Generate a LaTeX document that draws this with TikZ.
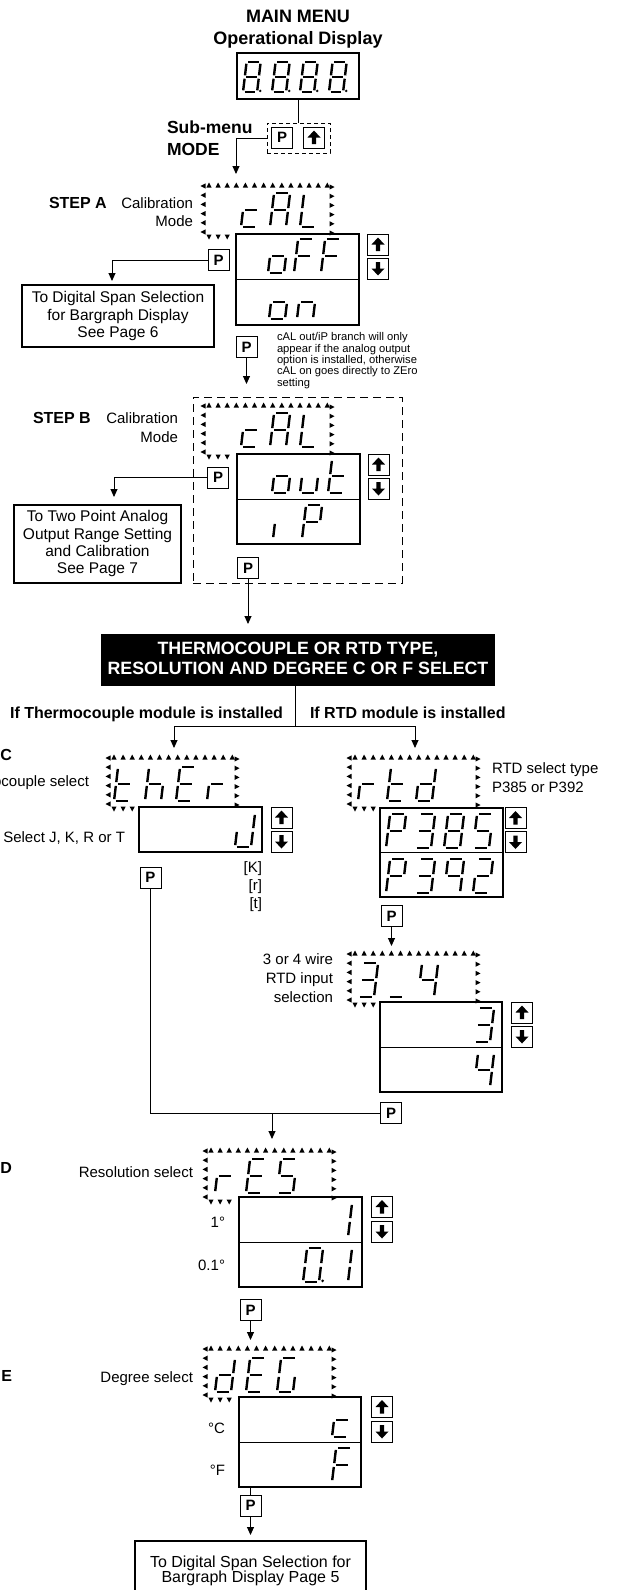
\documentclass[tikz,border=0pt]{standalone}
\usepackage{fontspec}
\setmainfont{Liberation Sans}
\usetikzlibrary{arrows.meta}
% seven-segment parts (local y negative = up)
\def\sgsa{\draw[segln] (1.9,-34) -- (14.1,-34);}
\def\sgsb{\draw[segln] (16,-32.1) -- (16,-18.9);}
\def\sgsc{\draw[segln] (16,-15.1) -- (16,-1.9);}
\def\sgsd{\draw[segln] (1.9,0) -- (14.1,0);}
\def\sgse{\draw[segln] (0,-1.9) -- (0,-15.1);}
\def\sgsf{\draw[segln] (0,-18.9) -- (0,-32.1);}
\def\sgsg{\draw[segln] (1.9,-17) -- (14.1,-17);}
\def\sgsp{\fill (19.5,-1.2) circle (1.5);}
\def\svEightp{a,b,c,d,e,f,g,p}
\def\sveig{a,b,c,d,e,f,g}
\def\svc{d,e,g}
\def\svA{a,b,c,e,f,g}
\def\svL{d,e,f}
\def\svo{c,d,e,g}
\def\svF{a,e,f,g}
\def\svn{c,e,g}
\def\svu{c,d,e}
\def\svt{d,e,f,g}
\def\svi{e}
\def\svP{a,b,e,f,g}
\def\svh{c,e,f,g}
\def\svE{a,d,e,f,g}
\def\svr{e,g}
\def\svJ{b,c,d,e}
\def\svd{b,c,d,e,g}
\def\svthree{a,b,c,d,g}
\def\svus{d}
\def\svfour{b,c,f,g}
\def\svfive{a,c,d,f,g}
\def\svnine{a,b,c,f,g}
\def\svtwo{a,b,d,e,g}
\def\svone{b,c}
\def\svzerop{a,b,c,d,e,f,p}
\def\svG{a,c,d,e,f}
\newcommand\sevg[4][1]{\begin{scope}[shift={(#2,#3)},xslant=0.12,scale=#1]\foreach \s in #4 {\csname sgs\s\endcsname}\end{scope}}
\newcommand\blinkfr[2]{%
\foreach \k in {0,...,13}{\fill ({#1+6+9.1*\k-2.6},{#2+2.5}) -- ++(5.2,0) -- ++(-2.6,-5) -- cycle;}
\foreach \k in {0,...,5}{\fill ({#1+2.5},{#2+1+9.2*\k-2.6}) -- ++(0,5.2) -- ++(-5,-2.6) -- cycle;}
\foreach \k in {0,...,5}{\fill ({#1+126.5},{#2+2+9.2*\k-2.6}) -- ++(0,5.2) -- ++(5,-2.6) -- cycle;}
\foreach \k in {0,1,2}{\fill ({#1+6+9.1*\k-2.6},{#2+49.5}) -- ++(5.2,0) -- ++(-2.6,5) -- cycle;}}
\begin{document}
\begin{tikzpicture}[x=1pt,y=-1pt,
  every node/.style={inner sep=0pt,outer sep=0pt},
  ln/.style={line width=0.9pt},
  arr/.style={ln,-{Triangle[width=7pt,length=8pt]}},
  segln/.style={line width=2.4pt},
  box/.style={draw,line width=1.1pt,anchor=north west},
  btn/.style={draw,line width=1pt,minimum width=21pt,minimum height=21pt},
  pbtn/.style={btn,font=\fontsize{15}{15}\selectfont\bfseries},
  ubtn/.style={btn,path picture={\fill ([shift={(0,-7)}]path picture bounding box.center) -- ++(6.5,7) -- ++(-4.3,0) -- ++(0,6.5) -- ++(-4.4,0) -- ++(0,-6.5) -- ++(-4.3,0) -- cycle;}},
  dbtn/.style={btn,path picture={\fill ([shift={(0,7)}]path picture bounding box.center) -- ++(6.5,-7) -- ++(-4.3,0) -- ++(0,-6.5) -- ++(-4.4,0) -- ++(0,6.5) -- ++(-4.3,0) -- cycle;}},
  lbl/.style={font=\fontsize{15}{17.5}\selectfont},
  blbl/.style={font=\fontsize{16}{19}\selectfont\bfseries},
  hd/.style={font=\fontsize{18}{22}\selectfont\bfseries},
  sub/.style={font=\fontsize{17.5}{20}\selectfont\bfseries},
]
\fill[white] (0,0) rectangle (618,1590);
\useasboundingbox (0,0) rectangle (618,1590);
% ---------- main menu
\node[hd,anchor=base] (t1) at (298,22) {MAIN MENU};
\node[hd,anchor=base] (t2) at (298,44) {Operational Display};
\node[box,line width=1.3pt,minimum width=122pt,minimum height=46pt] (md) at (237,53) {};
\foreach \xx in {243,272,300,329}{\sevg[0.88]{\xx}{92}{\svEightp}}
\node[draw,line width=0.9pt,dash pattern=on 4pt off 3pt,anchor=north west,minimum width=63pt,minimum height=30pt] (sm) at (267,123) {};
\node[pbtn] (p0) at (282,137.5) {P};
\node[ubtn] (u0) at (314,137.5) {};
\draw[ln] (md.south) -- (md.south |- sm.north);
\coordinate (a0) at (236,174);
\draw[arr] (sm.west) -| (a0);
\node[sub,anchor=base west] (subm) at (167,133) {Sub-menu};
\node[sub,anchor=base west] (mode) at (167,155) {MODE};
% ---------- STEP A
\node[blbl,anchor=base west] (sa) at (49,208) {STEP A};
\node[lbl,anchor=base east] (ca) at (193,208) {Calibration};
\node[lbl,anchor=base east] (ma) at (193,226) {Mode};
\blinkfr{203}{185}
\sevg{241}{227}{\svc}\sevg{270}{227}{\svA}\sevg{300}{227}{\svL}
\node[box,minimum width=123pt,minimum height=91pt] (oA) at (236,234) {};
\draw[ln] (oA.west) -- (oA.east);
\sevg{268}{273}{\svo}\sevg{294}{273}{\svF}\sevg{321}{273}{\svF}
\sevg{269}{319}{\svo}\sevg{297}{319}{\svn}
\node[ubtn] (uA) at (378,244.5) {};
\node[dbtn] (dA) at (378,268.5) {};
\node[pbtn] (pA) at (218.5,260) {P};
\coordinate (aA) at (112,281);
\draw[arr] (pA.west) -| (aA);
\node[box,minimum width=192pt,minimum height=62pt] (bA) at (22,285) {};
\node[align=center,anchor=north,font=\fontsize{15.5}{17.5}\selectfont] (bAt) at (118,291.7) {To Digital Span Selection\\for Bargraph Display\\See Page 6};
\node[pbtn] (pA2) at (246.5,347) {P};
\coordinate (aB) at (246.5,384);
\draw[arr] (pA2.south) -- (aB);
\node[anchor=north west,align=left,font=\fontsize{11.2}{10.3}\selectfont] (note) at (277,332.5) {cAL out/iP branch will only\\appear if the analog output\\option is installed, otherwise\\cAL on goes directly to ZEro\\setting};
% ---------- STEP B
\node[draw,line width=0.9pt,dash pattern=on 8pt off 5pt,anchor=north west,minimum width=209pt,minimum height=186pt] (dB) at (193,397) {};
\node[blbl,anchor=base west] (sb) at (33,423) {STEP B};
\node[lbl,anchor=base east] (cb) at (178,423) {Calibration};
\node[lbl,anchor=base east] (mb) at (178,442) {Mode};
\blinkfr{203}{405}
\sevg{241}{447}{\svc}\sevg{270}{447}{\svA}\sevg{300}{447}{\svL}
\node[box,minimum width=123pt,minimum height=90pt] (oB) at (237,454) {};
\draw[ln] (oB.west) -- (oB.east);
\sevg{272}{493}{\svo}\sevg{300}{493}{\svu}\sevg{328}{493}{\svt}
\sevg{273}{539}{\svi}\sevg{302}{539}{\svP}
\node[ubtn] (uB) at (378.5,464.5) {};
\node[dbtn] (dBb) at (378.5,488.5) {};
\node[pbtn] (pB) at (218,477.5) {P};
\coordinate (aC) at (114,497);
\draw[arr] (pB.west) -| (aC);
\node[box,minimum width=167pt,minimum height=78pt] (bB) at (14,505) {};
\node[align=center,anchor=north,font=\fontsize{15.5}{17.3}\selectfont] (bBt) at (97.5,510.7) {To Two Point Analog\\Output Range Setting\\and Calibration\\See Page 7};
\node[pbtn] (pB2) at (248,568) {P};
\coordinate (aD) at (248,624);
\draw[arr] (pB2.south) -- (aD);
% ---------- banner
\node[fill=black,anchor=north west,minimum width=394pt,minimum height=52pt] (ban) at (101,634) {};
\node[text=white,font=\fontsize{17.8}{20}\selectfont\bfseries,align=center] (bant) at (298,658.5) {THERMOCOUPLE OR RTD TYPE,\\RESOLUTION AND DEGREE C OR F SELECT};
\coordinate (jn) at (295,726);
\draw[ln] (jn |- ban.south) -- (jn);
\coordinate (aT) at (174,748);
\coordinate (aR) at (415,748);
\draw[arr] (jn) -| (aT);
\draw[arr] (jn) -| (aR);
\node[blbl,anchor=base east] (ift) at (283,718) {If Thermocouple module is installed};
\node[blbl,anchor=base west] (ifr) at (310,718) {If RTD module is installed};
% ---------- STEP C thermocouple
\node[blbl,anchor=base east] (sc) at (12,760) {STEP C};
\node[lbl,anchor=base east] (tcs) at (89,786) {Thermocouple select};
\node[lbl,anchor=base east] (sjk) at (125,842) {Select J, K, R or T};
\blinkfr{108}{757}
\sevg{114}{801}{\svt}\sevg{145}{801}{\svh}\sevg{176}{801}{\svE}\sevg{207}{801}{\svr}
\node[box,minimum width=123pt,minimum height=45pt] (oT) at (139,807) {};
\sevg{235}{847}{\svJ}
\node[ubtn] (uT) at (281.5,817.5) {};
\node[dbtn] (dT) at (281.5,841.5) {};
\node[lbl,anchor=base east] (kK) at (262,872) {[K]};
\node[lbl,anchor=base east] (kr) at (262,890) {[r]};
\node[lbl,anchor=base east] (kt) at (262,908) {[t]};
\node[pbtn] (pT) at (150.5,877.5) {P};
% ---------- RTD
\blinkfr{349}{757}
\sevg{358}{801}{\svr}\sevg{387}{801}{\svt}\sevg{416}{801}{\svd}
\node[lbl,anchor=base west] (rst) at (492,773) {RTD select type};
\node[lbl,anchor=base west] (rsp) at (492,792) {P385 or P392};
\node[box,minimum width=123pt,minimum height=89pt] (oR) at (380,808) {};
\draw[ln] (oR.west) -- (oR.east);
\sevg{386}{848}{\svP}\sevg{415}{848}{\svthree}\sevg{444}{848}{\sveig}\sevg{473}{848}{\svfive}
\sevg{386}{893}{\svP}\sevg{415}{893}{\svthree}\sevg{444}{893}{\svnine}\sevg{473}{893}{\svtwo}
\node[ubtn] (uR) at (515.5,818) {};
\node[dbtn] (dR) at (515.5,842) {};
\node[pbtn] (pR) at (391.5,916) {P};
\coordinate (aE) at (391.5,946);
\draw[arr] (pR.south) -- (aE);
% 3 or 4 wire
\blinkfr{349}{953}
\sevg{358}{997}{\svthree}\sevg{388}{997}{\svus}\sevg{418}{997}{\svfour}
\node[align=right,anchor=north east,font=\fontsize{15}{19}\selectfont] (wire) at (333,954) {3 or 4 wire\\RTD input\\selection};
\node[box,minimum width=122pt,minimum height=90pt] (o34) at (380,1002) {};
\draw[ln] (o34.west) -- (o34.east);
\sevg{474}{1042}{\svthree}\sevg{474}{1087}{\svfour}
\node[ubtn] (u34) at (522,1012.5) {};
\node[dbtn] (d34) at (522,1036.5) {};
\node[pbtn] (pR2) at (391,1113) {P};
\draw[ln] (pT.south) |- (pR2.west);
\coordinate (mg) at (272,1113);
\coordinate (aF) at (272,1139);
\draw[arr] (mg) -- (aF);
% ---------- STEP D resolution
\node[blbl,anchor=base east] (sd) at (12,1173) {STEP D};
\node[lbl,anchor=base east] (rsl) at (193,1177) {Resolution select};
\blinkfr{205}{1150}
\sevg{215}{1193}{\svr}\sevg{246}{1193}{\svE}\sevg{277}{1193}{\svfive}
\node[box,minimum width=123pt,minimum height=90pt] (oS) at (239,1197) {};
\draw[ln] (oS.west) -- (oS.east);
\sevg{332}{1237}{\svone}
\sevg{303}{1282}{\svzerop}\sevg{332}{1282}{\svone}
\node[ubtn] (uS) at (382,1207) {};
\node[dbtn] (dS) at (382,1231.5) {};
\node[lbl,anchor=base east] (one) at (225,1227) {1°};
\node[lbl,anchor=base east] (pone) at (225,1270) {0.1°};
\node[pbtn] (pS) at (250.5,1310) {P};
\coordinate (aG) at (250.5,1340);
\draw[arr] (pS.south) -- (aG);
% ---------- STEP E degree
\node[blbl,anchor=base east] (se) at (12,1381) {STEP E};
\node[lbl,anchor=base east] (dsl) at (193,1382) {Degree select};
\blinkfr{205}{1348}
\sevg{215}{1392}{\svd}\sevg{246}{1392}{\svE}\sevg{277}{1392}{\svG}
\node[box,minimum width=122pt,minimum height=90pt] (oD) at (239,1397) {};
\draw[ln] (oD.west) -- (oD.east);
\sevg{332}{1437}{\svc}\sevg{332}{1482}{\svF}
\node[ubtn] (uD) at (382,1407) {};
\node[dbtn] (dD) at (382,1431.5) {};
\node[lbl,anchor=base east] (dc) at (225,1433) {°C};
\node[lbl,anchor=base east] (df) at (225,1475) {°F};
\node[pbtn] (pD) at (250.5,1505.5) {P};
\draw[ln] (pD.north |- oD.south) -- (pD.north);
\coordinate (aH) at (250.5,1535);
\draw[arr] (pD.south) -- (aH);
\node[box,minimum width=231pt,minimum height=60pt] (fb) at (135,1541) {};
\node[align=center,anchor=north,font=\fontsize{16}{15}\selectfont] (fbt) at (250.5,1555.5) {To Digital Span Selection for\\Bargraph Display Page 5};
\end{tikzpicture}
\end{document}
